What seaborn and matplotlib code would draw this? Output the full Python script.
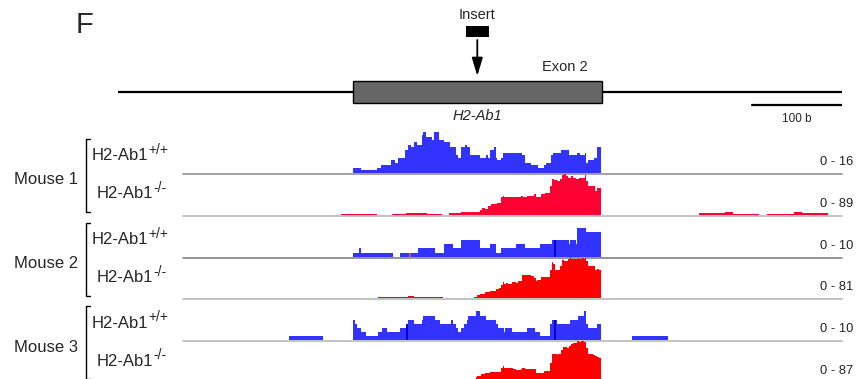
"""
Coverage of H2-Ab1 exon 2 in wild-type and knockout mice, drawn as
genome-browser style tracks under a small gene model.
"""

import matplotlib
matplotlib.use("Agg")
import matplotlib.pyplot as plt
import matplotlib.transforms as mtransforms
from matplotlib.lines import Line2D
from matplotlib.patches import Rectangle
import numpy as np
import pandas as pd
import seaborn as sns

# ── Style ─────────────────────────────────────────────────────────────────────
sns.set_theme(style="white")
plt.rcParams["font.family"] = ["Liberation Sans", "DejaVu Sans"]
W, H, DPI = 867, 379, 100
BLUE = "#3333ff"
RED_1 = "#ff0033"
RED = "#ff0000"

# ── Gene model (bp, exon 2 start = 0) ─────────────────────────────────────────
GENE_START, GENE_END = -261, 543
EXON_START, EXON_END = 0, 276
INSERT_POS = 138
SCALE_BAR = [443, 543]
VIEW = (-189, 543)

# ── Coverage tracks: bin edges (bp) and coverage per bin ──────────────────────
m1_wt_edges = [0, 9, 26, 31, 42, 47, 50, 58, 61, 64, 68, 71, 76, 78, 81, 88, 90, 95, 101,
               108, 114, 117, 120, 124, 126, 130, 141, 148, 150, 152, 157, 159, 160, 164,
               166, 188, 191, 197, 205, 212, 214, 220, 222, 231, 240, 249, 252, 258, 259,
               261, 267, 271, 275]
m1_wt_cov = [2, 1, 2, 3, 5, 4, 6, 9, 11, 10, 12, 11, 15, 16, 14, 13, 16, 13, 12, 10, 7, 6,
             10, 11, 10, 7, 6, 7, 6, 9, 10, 6, 5, 6, 8, 7, 4, 3, 2, 3, 4, 7, 8, 9, 7, 8, 7,
             8, 4, 5, 6, 10]

m1_ko_edges = [-13, 27, 43, 59, 82, 99, 107, 120, 136, 141, 143, 146, 150, 153, 157, 160,
               164, 166, 168, 186, 189, 193, 197, 201, 203, 209, 213, 219, 221, 223, 226,
               230, 232, 234, 236, 239, 242, 244, 247, 251, 256, 258, 259, 261, 269, 271,
               273, 275, 384, 413, 422, 451, 460, 490, 499, 528]
m1_ko_cov = [0.7, 0, 0.7, 2.9, 0.7, 0, 2.9, 5.1, 6.5, 9.4, 15.2, 13.0, 18.1, 22.4, 23.2,
             26.0, 37.6, 39.8, 39.1, 40.5, 37.6, 39.8, 41.2, 44.9, 39.1, 45.6, 47.8, 63.0,
             77.4, 76.0, 72.4, 77.4, 86.1, 89, 83.2, 79.6, 83.2, 80.3, 76.7, 78.9, 80.3,
             86.1, 72.4, 63.0, 50.7, 57.9, 57.2, 0, 2.9, 5.1, 0.7, 0, 0.7, 5.1, 2.9]

m2_wt_edges = [0, 6, 9, 44, 52, 72, 91, 101, 111, 120, 141, 152, 159, 164, 181, 191, 208,
               221, 240, 241, 247, 249, 259, 275]
m2_wt_cov = [1, 2, 1, 0, 1, 2, 1, 3, 2, 4, 2, 3, 1, 2, 3, 2, 3, 4, 3, 4, 3, 7, 6]

m2_ko_edges = [28, 61, 68, 100, 130, 134, 138, 141, 146, 152, 159, 162, 164, 166, 168, 170,
               172, 176, 177, 181, 183, 187, 197, 201, 203, 204, 209, 219, 221, 222, 224,
               230, 232, 234, 239, 241, 242, 250, 251, 254, 256, 258, 259, 261, 269, 271,
               273, 275, 500, 540]
m2_ko_cov = [2.0, 4.0, 2.0, 1.0, 0, 2.0, 5.9, 7.9, 11.9, 13.8, 18.4, 21.1, 25.7, 31.6, 27.7,
             29.6, 27.7, 32.9, 31.6, 29.6, 34.2, 45.4, 44.1, 39.5, 34.2, 35.6, 41.5, 55.3,
             71.1, 67.2, 56.0, 63.2, 75.1, 73.8, 77.0, 81, 77.0, 79.7, 77.0, 79.7, 77.0,
             79.7, 74.4, 63.2, 56.6, 58.6, 55.3, 0, 1.0]

m3_wt_edges = [-71, -34, 0, 2, 4, 9, 14, 28, 32, 38, 52, 59, 61, 68, 76, 78, 91, 96, 109,
               111, 114, 117, 120, 123, 126, 128, 136, 141, 148, 159, 161, 168, 169, 176,
               193, 202, 207, 219, 221, 226, 241, 250, 256, 259, 261, 271, 275, 310, 350]
m3_wt_cov = [1, 0, 5, 4, 3, 2, 1, 2, 3, 2, 3, 4, 5, 4, 5, 6, 5, 4, 5, 4, 3, 2, 3, 4, 5, 6,
             7, 6, 5, 4, 3, 2, 3, 2, 3, 2, 1, 4, 5, 4, 5, 6, 7, 4, 3, 4, 0, 1]

m3_ko_edges = [136, 138, 142, 146, 152, 164, 166, 168, 170, 177, 181, 186, 188, 191, 203,
               212, 219, 221, 226, 228, 231, 233, 237, 240, 242, 244, 249, 251, 253, 256,
               259, 261, 266, 269, 271, 273, 275]
m3_ko_cov = [10.5, 12.6, 16.8, 18.9, 21.0, 29.5, 33.7, 28.8, 29.5, 27.4, 25.3, 27.4, 29.5,
             27.4, 18.9, 23.2, 40.0, 58.9, 56.8, 58.9, 67.4, 73.7, 71.6, 75.8, 80.0, 82.8,
             87, 84.9, 87, 84.9, 73.0, 58.9, 56.8, 54.7, 52.6, 50.5]

# mismatch marks inside the wild-type tracks: (position bp, coverage, colour)
m2_wt_marks = [(63, 1, "#d2691e"), (224, 4, "#0000cc")]
m3_wt_marks = [(60, 4, "#0000cc"), (224, 5, "#0000cc")]

MICE = ["Mouse 1", "Mouse 2", "Mouse 3"]
GENOTYPES = [("H2-Ab1", "+/+"), ("H2-Ab1", "-/-")]
RANGES = [16, 89, 10, 81, 10, 87]

tracks = [
    (m1_wt_edges, m1_wt_cov, BLUE, "#9a9a9a", []),
    (m1_ko_edges, m1_ko_cov, RED_1, "#bdbdbd", []),
    (m2_wt_edges, m2_wt_cov, BLUE, "#8c8c8c", m2_wt_marks),
    (m2_ko_edges, m2_ko_cov, RED, "#bdbdbd", []),
    (m3_wt_edges, m3_wt_cov, BLUE, "#bdbdbd", m3_wt_marks),
    (m3_ko_edges, m3_ko_cov, RED, "#bdbdbd", []),
]


def px_rect(left, top, right, bottom):
    return [left / W, 1 - bottom / H, (right - left) / W, (bottom - top) / H]


fig = plt.figure(figsize=(W / DPI, H / DPI), dpi=DPI)

# ── Gene model ────────────────────────────────────────────────────────────────
gx = fig.add_axes(px_rect(118, 0, 842, 130))
gx.set_xlim(GENE_START, GENE_END)
gx.set_ylim(130, 0)
gx.axis("off")
gx.plot([GENE_START, GENE_END], [92.5, 92.5], color="black", lw=1.6, zorder=1)
gx.add_patch(Rectangle((EXON_START, 81), EXON_END - EXON_START, 22,
                       facecolor="#666666", edgecolor="black", lw=1, zorder=2))
gx.text(EXON_END - 15, 67, "Exon 2", ha="right", va="center", fontsize=10.5)
gx.text((EXON_START + EXON_END) / 2, 116, "H2-Ab1", ha="center", va="center",
        fontsize=10.5, style="italic")
gx.add_patch(Rectangle((INSERT_POS - 12.5, 26), 25, 11, facecolor="black",
                       edgecolor="none"))
gx.text(INSERT_POS, 15, "Insert", ha="center", va="center", fontsize=10.5)
gx.annotate("", xy=(INSERT_POS, 76), xytext=(INSERT_POS, 40),
            arrowprops=dict(arrowstyle="-|>,head_length=1.0,head_width=0.3",
                            color="black", lw=1.3, mutation_scale=11,
                            shrinkA=0, shrinkB=0))
gx.plot(SCALE_BAR, [105, 105], color="black", lw=1.6)
gx.text(np.mean(SCALE_BAR), 119, "100 b", ha="center", va="center", fontsize=8.5)

fig.text(85 / W, 1 - 25 / H, "F", ha="center", va="center", fontsize=21)

# ── Coverage tracks ───────────────────────────────────────────────────────────
below = mtransforms.ScaledTranslation(0, -0.9 / DPI, fig.dpi_scale_trans)
baselines = [173, 214.8, 256.6, 298.4, 340.2, 382]
for (edges, cov, color, line_color, marks), rng, base in zip(tracks, RANGES, baselines):
    ax = fig.add_axes(px_rect(183, base - 41, 842, base))
    edges = [float(e) for e in edges]
    df = pd.DataFrame({
        "pos": [(a + b) / 2 for a, b in zip(edges[:-1], edges[1:])],
        "cov": [float(c) for c in cov],
    })
    sns.histplot(data=df, x="pos", weights="cov", bins=edges, element="step",
                 fill=True, color=color, alpha=1, linewidth=0, ax=ax)
    for pos, height, mcolor in marks:
        ax.vlines(pos, 0, height, color=mcolor, lw=1.3, zorder=3)
    ax.plot([0, 1], [0, 0], color=line_color, lw=1.3, clip_on=False, zorder=0,
            transform=ax.get_yaxis_transform() + below)
    ax.set_xlim(VIEW)
    ax.set_ylim(0, rng)
    ax.axis("off")
    ax.text(1.017, 0.27, f"0 - {rng}", transform=ax.transAxes, ha="right",
            va="center", fontsize=9.3, color="#222222")

# ── Sample labels and brackets ────────────────────────────────────────────────
renderer = fig.canvas.get_renderer()
for i, mouse in enumerate(MICE):
    top = 139 + i * 83.5
    fig.text(46 / W, 1 - (top + 41) / H, mouse, ha="center", va="center", fontsize=12)
    fig.add_artist(Line2D([90 / W, 86 / W, 86 / W, 90 / W],
                          [1 - top / H, 1 - top / H, 1 - (top + 73) / H, 1 - (top + 73) / H],
                          color="black", lw=1))
    for j, (name, sup) in enumerate(GENOTYPES):
        x0 = 92 if j == 0 else 97
        y0 = top + 17 + j * 38
        t = fig.text(x0 / W, 1 - y0 / H, name, ha="left", va="center", fontsize=12)
        bb = t.get_window_extent(renderer=renderer)
        fig.text(bb.x1 / W, 1 - (y0 - 6) / H, sup, ha="left", va="center", fontsize=10)

fig.savefig("out.png", dpi=DPI)
